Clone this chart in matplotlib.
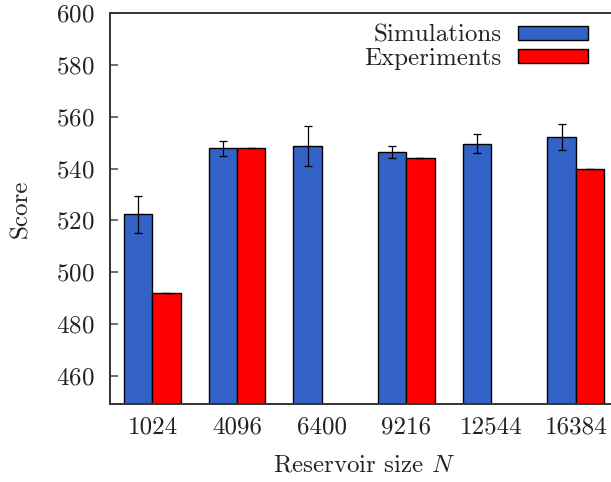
import matplotlib
matplotlib.use('Agg')
import matplotlib.pyplot as plt
import numpy as np

# reservoir sizes and scores
sizes = ['1024', '4096', '6400', '9216', '12544', '16384']
sim_score = [522.4, 547.8, 548.7, 546.4, 549.6, 552.1]
sim_err = [7.2, 2.9, 7.7, 2.3, 3.7, 5.0]
exp_score = [492.0, 548.0, np.nan, 544.0, np.nan, 540.0]
exp_err = [0.0, 0.0, np.nan, 0.0, np.nan, 0.0]

plt.rcParams['font.family'] = 'serif'
plt.rcParams['font.serif'] = ['cmr10']
plt.rcParams['mathtext.fontset'] = 'cm'
plt.rcParams['axes.formatter.use_mathtext'] = True
plt.rcParams['text.color'] = '#222222'
plt.rcParams['xtick.labelcolor'] = '#222222'
plt.rcParams['ytick.labelcolor'] = '#222222'
plt.rcParams['axes.labelcolor'] = '#222222'

fs = 18

fig = plt.figure(figsize=(6.11, 4.82), dpi=100)
ax = fig.add_axes([110 / 611, 1 - 404 / 482, 508 / 611, 391 / 482])

x = np.arange(len(sizes))
w = 1 / 3
ax.bar(x - w / 2, sim_score, w, color='#3362c7', edgecolor='black',
       linewidth=1.0, label='Simulations', zorder=2)
ax.bar(x + w / 2, exp_score, w, color='#ff0000', edgecolor='black',
       linewidth=1.0, label='Experiments', zorder=2)
ax.errorbar(x - w / 2, sim_score, yerr=sim_err, fmt='none', ecolor='black',
            elinewidth=0.9, capsize=2.6, capthick=0.9, zorder=3)
ax.errorbar(x + w / 2, exp_score, yerr=exp_err, fmt='none', ecolor='black',
            elinewidth=0.9, capsize=2.6, capthick=0.9, zorder=3)

ax.set_xlim(-0.5, 5.5)
ax.set_ylim(449.2, 600)
ax.set_yticks(np.arange(460, 601, 20))
ax.set_xticks(x)
ax.set_xticklabels(sizes)
ax.tick_params(axis='x', length=0, pad=9, labelsize=fs)
ax.tick_params(axis='y', direction='in', length=6, width=1.2, color='#555555',
               pad=11, labelsize=fs, right=False)
for s in ['left', 'top', 'bottom']:
    ax.spines[s].set_linewidth(1.4)
    ax.spines[s].set_color('#333333')
ax.spines['right'].set_visible(False)

ax.set_xlabel('Reservoir size $N$', fontsize=fs, labelpad=11)
ax.set_ylabel('Score', fontsize=fs, labelpad=17)

ax.legend(loc='upper right', bbox_to_anchor=(0.975, 1.015), frameon=False,
          markerfirst=False, fontsize=fs, handlelength=2.8,
          handleheight=0.5, labelspacing=0.05, handletextpad=0.65,
          borderpad=0.2)

fig.savefig('out.png', dpi=100)
